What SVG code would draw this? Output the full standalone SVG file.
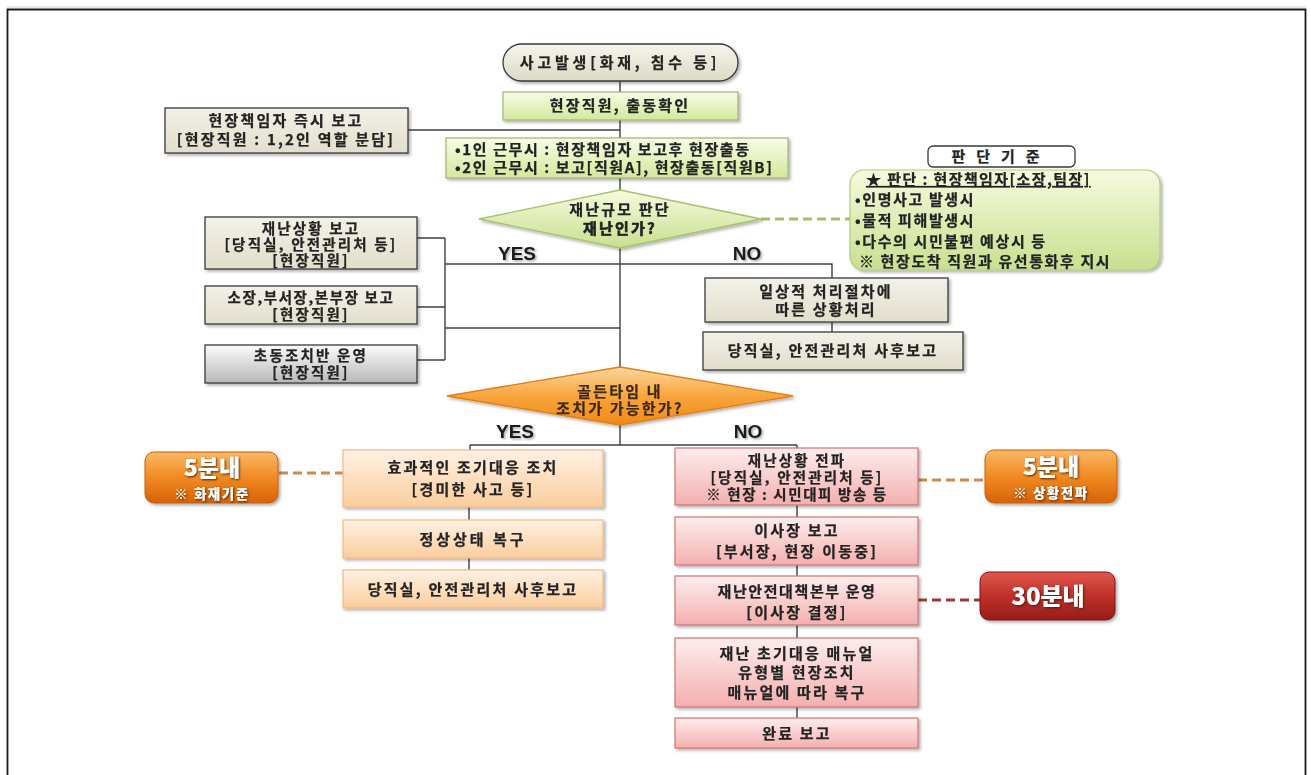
<svg xmlns="http://www.w3.org/2000/svg" width="1311" height="775" viewBox="0 0 1311 775">
<defs>
<style>
.t{font-family:"Noto Sans CJK KR","Noto Sans",sans-serif;font-weight:700;font-size:15px;fill:#222;stroke:#222;stroke-width:0.25px;text-anchor:middle;letter-spacing:2.2px}
.s{font-size:14.5px}
.tl{text-anchor:start}
.yn{font-family:"Liberation Sans",Arial,sans-serif;font-weight:700;font-size:19px;fill:#1a1a1a;text-anchor:middle}
.bg{font-family:"Noto Sans CJK KR",sans-serif;font-weight:900;fill:#fff;text-anchor:middle}
.ln{stroke:#404040;stroke-width:1.4;fill:none}
.dg{stroke:#a6bf62;stroke-width:3;stroke-dasharray:9 5;fill:none}
.do{stroke:#d08a4e;stroke-width:3;stroke-dasharray:9 5;fill:none}
.dr{stroke:#9a3b36;stroke-width:3;stroke-dasharray:9 5;fill:none}
</style>
<linearGradient id="gOval" x1="0" y1="0" x2="0" y2="1"><stop offset="0" stop-color="#f6f4ec"/><stop offset="1" stop-color="#dedac7"/></linearGradient>
<linearGradient id="gGreen" x1="0" y1="0" x2="0" y2="1"><stop offset="0" stop-color="#f9fce8"/><stop offset="1" stop-color="#d3e89a"/></linearGradient>
<linearGradient id="gBeige" x1="0" y1="0" x2="0" y2="1"><stop offset="0" stop-color="#f3f1e8"/><stop offset="1" stop-color="#e2decc"/></linearGradient>
<linearGradient id="gGray" x1="0" y1="0" x2="0" y2="1"><stop offset="0" stop-color="#fbfbfb"/><stop offset="1" stop-color="#b8b8b8"/></linearGradient>
<linearGradient id="gDia1" x1="0" y1="0" x2="0" y2="1"><stop offset="0" stop-color="#f6fadf"/><stop offset="1" stop-color="#c8e08e"/></linearGradient>
<linearGradient id="gDia2" x1="0" y1="0" x2="0" y2="1"><stop offset="0" stop-color="#fcd7a0"/><stop offset="0.5" stop-color="#f7a53c"/><stop offset="1" stop-color="#f08a16"/></linearGradient>
<linearGradient id="gPeach" x1="0" y1="0" x2="0" y2="1"><stop offset="0" stop-color="#fff1e4"/><stop offset="1" stop-color="#fbcd9c"/></linearGradient>
<linearGradient id="gPink" x1="0" y1="0" x2="0" y2="1"><stop offset="0" stop-color="#fdeded"/><stop offset="1" stop-color="#f4afaf"/></linearGradient>
<linearGradient id="gBOr" x1="0" y1="0" x2="0" y2="1"><stop offset="0" stop-color="#fbb865"/><stop offset="0.5" stop-color="#f08a23"/><stop offset="1" stop-color="#d76308"/></linearGradient>
<linearGradient id="gBRd" x1="0" y1="0" x2="0" y2="1"><stop offset="0" stop-color="#e0574c"/><stop offset="0.5" stop-color="#c0302a"/><stop offset="1" stop-color="#971c1a"/></linearGradient>
<filter id="sh" x="-10%" y="-10%" width="130%" height="140%"><feDropShadow dx="2" dy="2" stdDeviation="1.5" flood-color="#000" flood-opacity="0.3"/></filter>
<filter id="tsh" x="-10%" y="-20%" width="130%" height="150%"><feDropShadow dx="1" dy="1" stdDeviation="0.8" flood-color="#3a1a00" flood-opacity="0.9"/></filter>
<filter id="ysh" x="-10%" y="-20%" width="130%" height="150%"><feDropShadow dx="1.5" dy="1.5" stdDeviation="1" flood-color="#000" flood-opacity="0.35"/></filter>
</defs>
<rect width="1311" height="775" fill="#fff"/>
<line x1="7" y1="7" x2="1306" y2="7" stroke="#cfcfcf" stroke-width="1"/>
<path d="M7.5 775 V9.5 H1305.5 V775" fill="none" stroke="#1a1a1a" stroke-width="1.8"/>

<g id="connectors">
<path class="ln" d="M620 81 V92 M620 120 V138 M620 178 V190 M620 248 V367 M408 130 H620"/>
<path class="ln" d="M417 238 H445 M417 307 H445 M417 360 H445 M445 238 V360 M445 264 H832 V278 M445 328 H620 M832 322 V332"/>
<path class="ln" d="M620 425 V445 M470 445 H797 M470 445 V450 M797 445 V448"/>
<path class="ln" d="M469 507 V520 M469 558 V570"/>
<path class="ln" d="M797 505 V517 M797 565 V576 M797 625 V638 M797 707 V718"/>
<line class="dg" x1="761" y1="219" x2="850" y2="219"/>
<line class="do" x1="279" y1="473" x2="343" y2="473"/>
<line class="do" x1="918" y1="480" x2="985" y2="480"/>
<line class="dr" x1="918" y1="600" x2="980" y2="600"/>
</g>

<g id="n-start" filter="url(#sh)">
<rect x="503" y="44" width="235" height="37" rx="18.5" fill="url(#gOval)" stroke="#3a3a3a" stroke-width="1.3"/>
<text class="t" x="620" y="68" style="letter-spacing:3.8px">사고발생[화재, 침수 등]</text>
</g>
<g id="n-dispatch" filter="url(#sh)">
<rect x="503" y="92" width="235" height="28" fill="url(#gGreen)" stroke="#a3b273" stroke-width="1.2"/>
<text class="t" x="620" y="111">현장직원, 출동확인</text>
</g>
<g id="n-report-lead" filter="url(#sh)">
<rect x="165" y="108" width="243" height="45" fill="url(#gBeige)" stroke="#3a3a3a" stroke-width="1.3"/>
<text class="t" x="286" y="126">현장책임자 즉시 보고</text>
<text class="t" x="286" y="145">[현장직원 : 1,2인 역할 분담]</text>
</g>
<g id="n-staff" filter="url(#sh)">
<rect x="446" y="138" width="342" height="40" fill="url(#gGreen)" stroke="#a3b273" stroke-width="1.2"/>
<text class="t tl" x="455" y="155" style="letter-spacing:1.6px">•1인 근무시 : 현장책임자  보고후 현장출동</text>
<text class="t tl" x="455" y="173" style="letter-spacing:1.6px">•2인 근무시 : 보고[직원A], 현장출동[직원B]</text>
</g>
<g id="n-decide1" filter="url(#sh)">
<polygon points="479,219 620,190 761,219 620,248" fill="url(#gDia1)" stroke="#a9c06d" stroke-width="1.3"/>
<text class="t" x="620" y="215">재난규모 판단</text>
<text class="t" x="620" y="234" style="stroke-width:0.6px">재난인가?</text>
</g>
<g id="n-criteria-title">
<rect x="928" y="146" width="147" height="21" rx="5" fill="#fff" stroke="#3a3a3a" stroke-width="1.3"/>
<text class="t" x="1001" y="162" style="letter-spacing:11px">판단기준</text>
</g>
<g id="n-criteria" filter="url(#sh)">
<rect x="850" y="170" width="310" height="100" rx="14" fill="url(#gDia1)" stroke="#b4cc7a" stroke-width="1.2"/>
<text class="t tl" x="866" y="185" style="letter-spacing:1.4px;text-decoration:underline">★ 판단 : 현장책임자[소장,팀장]</text>
<text class="t tl" x="855" y="205" style="letter-spacing:1.6px">•인명사고  발생시</text>
<text class="t tl" x="855" y="226" style="letter-spacing:1.6px">•물적  피해발생시</text>
<text class="t tl" x="855" y="247" style="letter-spacing:1.6px">•다수의  시민불편  예상시 등</text>
<text class="t tl" x="859" y="267" style="letter-spacing:1.6px">※ 현장도착  직원과  유선통화후  지시</text>
</g>
<text class="yn" x="517" y="260" filter="url(#ysh)">YES</text>
<text class="yn" x="747" y="260" filter="url(#ysh)">NO</text>

<g id="n-disaster-report" filter="url(#sh)">
<rect x="205" y="217" width="212" height="52" fill="url(#gBeige)" stroke="#3a3a3a" stroke-width="1.3"/>
<text class="t s" x="311" y="234">재난상황 보고</text>
<text class="t s" x="311" y="250">[당직실, 안전관리처 등]</text>
<text class="t s" x="311" y="266">[현장직원]</text>
</g>
<g id="n-chief-report" filter="url(#sh)">
<rect x="205" y="286" width="212" height="38" fill="url(#gBeige)" stroke="#3a3a3a" stroke-width="1.3"/>
<text class="t s" x="311" y="303" style="letter-spacing:1.6px">소장,부서장,본부장 보고</text>
<text class="t s" x="311" y="320">[현장직원]</text>
</g>
<g id="n-initial-team" filter="url(#sh)">
<rect x="205" y="345" width="212" height="38" fill="url(#gGray)" stroke="#3a3a3a" stroke-width="1.3"/>
<text class="t s" x="311" y="361">초동조치반 운영</text>
<text class="t s" x="311" y="378">[현장직원]</text>
</g>
<g id="n-routine" filter="url(#sh)">
<rect x="705" y="278" width="243" height="44" fill="url(#gBeige)" stroke="#3a3a3a" stroke-width="1.3"/>
<text class="t" x="826" y="297">일상적 처리절차에</text>
<text class="t" x="826" y="315">따른 상황처리</text>
</g>
<g id="n-routine-report" filter="url(#sh)">
<rect x="703" y="332" width="260" height="38" fill="url(#gBeige)" stroke="#3a3a3a" stroke-width="1.3"/>
<text class="t" x="833" y="356">당직실, 안전관리처 사후보고</text>
</g>

<g id="n-decide2" filter="url(#sh)">
<polygon points="447,396 620,367 793,396 620,425" fill="url(#gDia2)" stroke="#e57d12" stroke-width="1.3"/>
<text class="t" x="620" y="397" style="fill:#3d2914;stroke:#3d2914">골든타임 내</text>
<text class="t" x="620" y="414" style="fill:#3d2914;stroke:#3d2914">조치가 가능한가?</text>
</g>
<text class="yn" x="515" y="438" filter="url(#ysh)">YES</text>
<text class="yn" x="748" y="438" filter="url(#ysh)">NO</text>

<g id="n-early-action" filter="url(#sh)">
<rect x="343" y="450" width="260" height="57" fill="url(#gPeach)" stroke="#f1b987" stroke-width="1.2"/>
<text class="t" x="473" y="473">효과적인 조기대응 조치</text>
<text class="t" x="473" y="495">[경미한 사고 등]</text>
</g>
<g id="n-restore" filter="url(#sh)">
<rect x="343" y="520" width="260" height="38" fill="url(#gPeach)" stroke="#f1b987" stroke-width="1.2"/>
<text class="t" x="473" y="545" style="letter-spacing:3px">정상상태  복구</text>
</g>
<g id="n-early-report" filter="url(#sh)">
<rect x="343" y="570" width="260" height="38" fill="url(#gPeach)" stroke="#f1b987" stroke-width="1.2"/>
<text class="t" x="473" y="595">당직실, 안전관리처 사후보고</text>
</g>
<g id="n-badge-fire" filter="url(#sh)">
<rect x="145" y="452" width="133" height="51" rx="9" fill="url(#gBOr)" stroke="#c65e08" stroke-width="1"/>
<text class="bg" x="212" y="476" font-size="23" filter="url(#tsh)">5분내</text>
<text class="bg" x="212" y="499" font-size="13.5" filter="url(#tsh)" style="letter-spacing:1.5px">※ 화재기준</text>
</g>

<g id="n-propagate" filter="url(#sh)">
<rect x="675" y="448" width="243" height="57" fill="url(#gPink)" stroke="#cf7474" stroke-width="1.2"/>
<text class="t s" x="797" y="466">재난상황 전파</text>
<text class="t s" x="797" y="483">[당직실, 안전관리처 등]</text>
<text class="t s" x="797" y="500" style="letter-spacing:1.6px">※  현장 : 시민대피 방송 등</text>
</g>
<g id="n-chair-report" filter="url(#sh)">
<rect x="675" y="517" width="243" height="48" fill="url(#gPink)" stroke="#cf7474" stroke-width="1.2"/>
<text class="t" x="797" y="536">이사장 보고</text>
<text class="t" x="797" y="557">[부서장, 현장 이동중]</text>
</g>
<g id="n-hq" filter="url(#sh)">
<rect x="675" y="576" width="243" height="49" fill="url(#gPink)" stroke="#cf7474" stroke-width="1.2"/>
<text class="t" x="797" y="597" style="letter-spacing:1.6px">재난안전대책본부  운영</text>
<text class="t" x="797" y="618">[이사장 결정]</text>
</g>
<g id="n-manual" filter="url(#sh)">
<rect x="675" y="638" width="243" height="69" fill="url(#gPink)" stroke="#cf7474" stroke-width="1.2"/>
<text class="t" x="797" y="659">재난 초기대응 매뉴얼</text>
<text class="t" x="797" y="678">유형별 현장조치</text>
<text class="t" x="797" y="698">매뉴얼에 따라 복구</text>
</g>
<g id="n-complete" filter="url(#sh)">
<rect x="675" y="718" width="243" height="30" fill="url(#gPink)" stroke="#cf7474" stroke-width="1.2"/>
<text class="t" x="797" y="739">완료 보고</text>
</g>
<g id="n-badge-prop" filter="url(#sh)">
<rect x="985" y="450" width="132" height="53" rx="9" fill="url(#gBOr)" stroke="#c65e08" stroke-width="1"/>
<text class="bg" x="1051" y="475" font-size="23" filter="url(#tsh)">5분내</text>
<text class="bg" x="1051" y="498" font-size="13.5" filter="url(#tsh)" style="letter-spacing:1.5px">※ 상황전파</text>
</g>
<g id="n-badge-30" filter="url(#sh)">
<rect x="980" y="572" width="135" height="48" rx="9" fill="url(#gBRd)" stroke="#7d1414" stroke-width="1"/>
<text class="bg" x="1048" y="605" font-size="24" filter="url(#tsh)">30분내</text>
</g>
</svg>
